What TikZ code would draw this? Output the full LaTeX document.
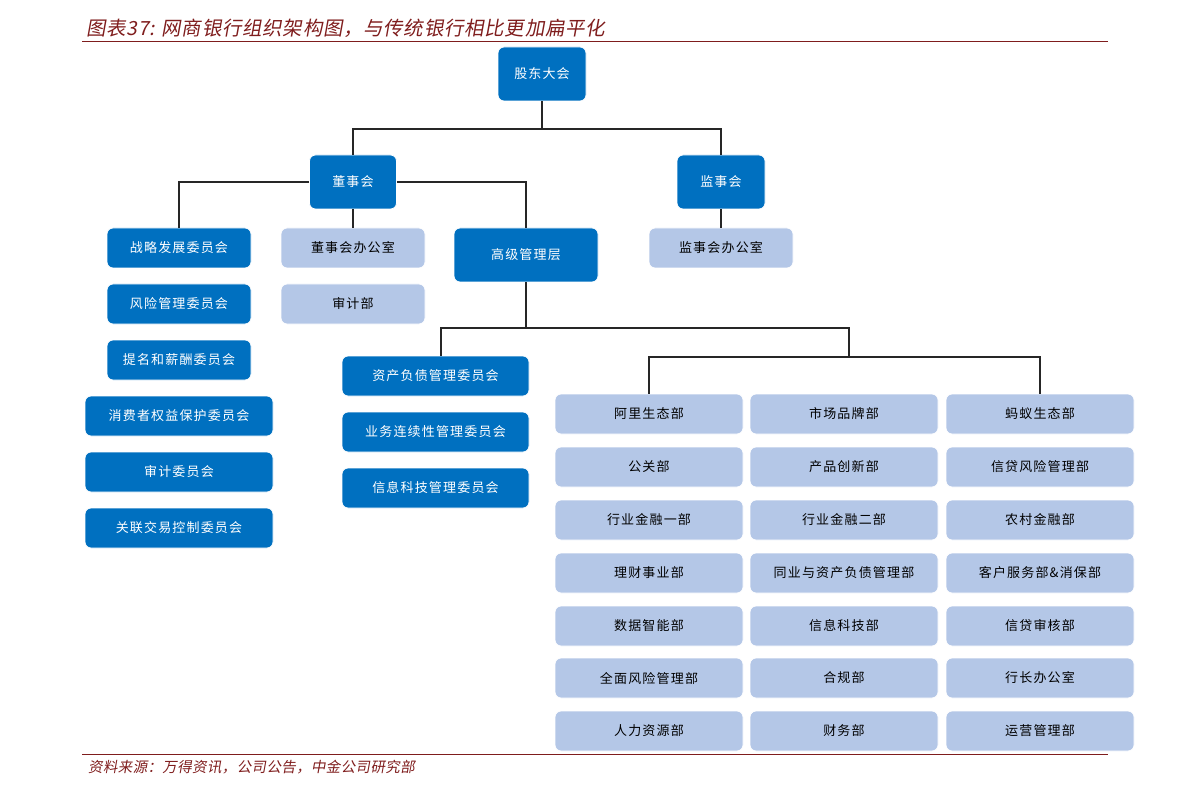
\documentclass[tikz,border=0pt]{standalone}
\usepackage{fontspec}
\setmainfont{Noto Sans CJK SC}
\newfontfamily\slfont[FakeSlant=0.18,LetterSpace=3.5]{Noto Sans CJK SC}
\newfontfamily\srcfont[FakeSlant=0.18,LetterSpace=2.5]{Noto Sans CJK SC}
\newfontfamily\boxfont[LetterSpace=9]{Noto Sans CJK SC}
\definecolor{boxblue}{HTML}{0070C0}
\definecolor{boxlight}{HTML}{B4C7E7}
\definecolor{titlered}{HTML}{7F1D1D}
\definecolor{linegray}{HTML}{262626}
\tikzset{
  base/.style={rounded corners=6pt, inner sep=0pt, font=\boxfont\fontsize{13}{15}\selectfont, draw=white, line width=0.8pt},
  dk/.style={base, fill=boxblue, text=white},
  lt/.style={base, fill=boxlight, text=black},
  small/.style={minimum width=144pt, minimum height=40pt},
  wide/.style={minimum width=188pt, minimum height=40pt},
  tall/.style={minimum height=54pt},
  conn/.style={draw=linegray, line width=1.1pt},
}
\begin{document}
\begin{tikzpicture}[x=1pt,y=-1pt]
\useasboundingbox (0,0) rectangle (1191,794);
% title and rules
\node[anchor=west, text=titlered, font=\slfont\fontsize{19.5}{22}\selectfont, inner sep=0pt] (title) at (86,28) {图表37: 网商银行组织架构图，与传统银行相比更加扁平化};
\coordinate (tl) at (82,42);
\coordinate (tr) at (1108,42);
\draw[titlered, line width=1pt] (tl) -- (tr);
\coordinate (bl) at (82,754);
\coordinate (br) at (1108,754);
\draw[titlered, line width=1pt] (bl) -- (br);
\node[anchor=west, text=titlered, font=\srcfont\fontsize{14.5}{17}\selectfont, inner sep=0pt] (src) at (88,767) {资料来源：万得资讯，公司公告，中金公司研究部};

% top level
\node[dk, tall, minimum width=88pt] (gd) at (542,74) {股东大会};
\node[dk, tall, minimum width=87pt] (dsh) at (353,182) {董事会};
\node[dk, tall, minimum width=88pt] (jsh) at (721,182) {监事会};
\node[dk, tall, minimum width=144pt] (gj) at (526,255) {高级管理层};

% board committees
\node[dk, small] (zl) at (179,248) {战略发展委员会};
\node[dk, small] (fx) at (179,304) {风险管理委员会};
\node[dk, small] (tm) at (179,360) {提名和薪酬委员会};
\node[dk, wide] (xf) at (179,416) {消费者权益保护委员会};
\node[dk, wide] (sj) at (179,472) {审计委员会};
\node[dk, wide] (gl) at (179,528) {关联交易控制委员会};

\node[lt, small] (dbgs) at (353,248) {董事会办公室};
\node[lt, small] (sjb) at (353,304) {审计部};
\node[lt, small] (jbgs) at (721,248) {监事会办公室};

% management committees
\node[dk, wide, minimum width=187pt] (zc) at (435.5,376) {资产负债管理委员会};
\node[dk, wide, minimum width=187pt] (yw) at (435.5,432) {业务连续性管理委员会};
\node[dk, wide, minimum width=187pt] (xx) at (435.5,488) {信息科技管理委员会};

% departments grid
\foreach \n/\x/\y/\t in {
  al/649/414/阿里生态部, sc/844/414/市场品牌部, my/1040/414/蚂蚁生态部,
  gg/649/467/公关部, cp/844/467/产品创新部, xd/1040/467/信贷风险管理部,
  h1/649/520/行业金融一部, h2/844/520/行业金融二部, nc/1040/520/农村金融部,
  lc/649/573/理财事业部, ty/844/573/同业与资产负债管理部, kh/1040/573/客户服务部\&消保部,
  sz/649/626/数据智能部, xk/844/626/信息科技部, xs/1040/626/信贷审核部,
  qm/649/678/全面风险管理部, hg/844/678/合规部, hz/1040/678/行长办公室,
  rl/649/731/人力资源部, cw/844/731/财务部, yy/1040/731/运营管理部}
  { \node[lt, wide] (\n) at (\x,\y) {\t}; }

% connectors
\coordinate (j1) at (542,129);
\draw[conn] (gd.south) -- (j1);
\draw[conn] (j1) -| (dsh.north);
\draw[conn] (j1) -| (jsh.north);
\draw[conn] (dsh.west) -| (zl.north);
\draw[conn] (dsh.east) -| (gj.north);
\draw[conn] (dsh.south) -- (dbgs.north);
\draw[conn] (jsh.south) -- (jbgs.north);
\coordinate (j2) at (526,328);
\coordinate (j3) at (849,328);
\coordinate (z0) at (441,356);
\coordinate (j4) at (849,357);
\draw[conn] (gj.south) -- (j2);
\draw[conn] (z0) |- (j3) -- (j4);
\draw[conn] (al.north) |- (j4) -| (my.north);
\end{tikzpicture}
\end{document}
